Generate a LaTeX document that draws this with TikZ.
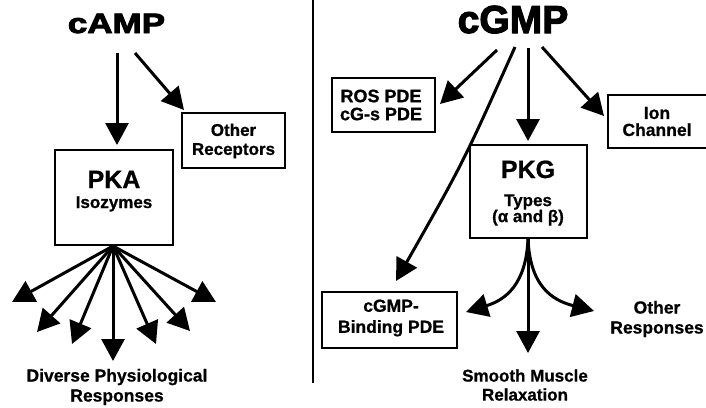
\documentclass[tikz,border=0pt]{standalone}
\usepackage{fontspec}
\setmainfont{Liberation Sans}
\newfontfamily\heavyfont[FakeBold=3]{Liberation Sans Bold}
\newfontfamily\labfont[FakeBold=0.8]{Liberation Sans Bold}
\usetikzlibrary{arrows.meta}
\begin{document}
\begin{tikzpicture}[x=1pt,y=-1pt,
  arr/.style={line width=3pt,-{Triangle[length=22pt,width=23pt]}},
  boxn/.style={draw,line width=1.4pt,inner sep=0pt},
  lbl/.style={font=\fontsize{17}{19}\selectfont\labfont,align=center,inner sep=0pt},
  big/.style={font=\fontsize{25}{25}\selectfont\labfont,inner sep=0pt,anchor=base},
]
\useasboundingbox (0,0) rectangle (706,407);

% divider
\coordinate (dtop) at (313,0);
\coordinate (dbot) at (313,383);
\draw[line width=1.2pt] (dtop) -- (dbot);

% ---------- cAMP side ----------
\node[font=\fontsize{28}{28}\selectfont\heavyfont, xscale=1.25, anchor=base, inner sep=0pt] (camp) at (116.5,33) {cAMP};

\node[boxn, minimum width=118pt, minimum height=95pt] (pka) at (114,197.5) {};
\node[big] (pkat) at (114,188) {PKA};
\node[lbl, anchor=base] (pkai) at (114,208) {Isozymes};

\node[boxn, minimum width=103pt, minimum height=55pt] (orec) at (233.5,140.5) {};
\node[lbl] (orect) at (233.5,141) {Other\\Receptors};

\coordinate (a1s) at (117,53);
\coordinate (a1e) at (117,145);
\coordinate (a2s) at (135,53);
\coordinate (a2e) at (184,110);
\draw[arr] (a1s) -- (a1e);
\draw[arr] (a2s) -- (a2e);

\coordinate (fo) at (113,246);
\coordinate (f1) at (12,302);
\coordinate (f2) at (37,332);
\coordinate (f3) at (72,344);
\coordinate (f4) at (113,361);
\coordinate (f5) at (156,344);
\coordinate (f6) at (190,331);
\coordinate (f7) at (216,302);
\foreach \t in {f1,f2,f3,f4,f5,f6,f7} \draw[arr] (fo) -- (\t);

\node[lbl, font=\fontsize{17.5}{20}\selectfont\labfont] (diverse) at (117,387) {Diverse Physiological\\Responses};

% ---------- cGMP side ----------
\node[font=\fontsize{39}{39}\selectfont\heavyfont, anchor=base, inner sep=0pt] (cgmp) at (513,33) {cGMP};

\node[boxn, minimum width=103pt, minimum height=54pt] (ros) at (383.5,105) {};
\node[lbl, font=\fontsize{18}{18}\selectfont\labfont] (rost) at (381,105) {ROS PDE\\cG-s PDE};

\begin{scope}
\clip (0,0) rectangle (706,407);
\node[boxn, minimum width=104pt, minimum height=53pt] (ion) at (660,121.5) {};
\end{scope}
\node[lbl, font=\fontsize{17.5}{17}\selectfont\labfont] (iont) at (657,121.5) {Ion\\Channel};

\node[boxn, minimum width=117pt, minimum height=93pt] (pkg) at (528.5,191.5) {};
\node[big] (pkgt) at (528,178) {PKG};
\node[lbl, font=\fontsize{17}{16}\selectfont\labfont] (pkgs) at (528,210) {Types\\(α and β)};

\node[boxn, minimum width=135pt, minimum height=56pt] (bind) at (389.5,320) {};
\node[lbl, font=\fontsize{17.5}{21}\selectfont\labfont] (bindt) at (391,318) {cGMP-\\Binding PDE};

\node[lbl, font=\fontsize{17.5}{20}\selectfont\labfont] (oresp) at (657,319) {Other\\Responses};
\node[lbl] (smooth) at (525,385) {Smooth Muscle\\Relaxation};

\coordinate (g1s) at (497,50);
\coordinate (g1e) at (440,104);
\coordinate (g2s) at (515,47);
\coordinate (g2c) at (463,163);
\coordinate (g2e) at (396,281);
\coordinate (g3s) at (528,48);
\coordinate (g3e) at (528,141);
\coordinate (g4s) at (542,47);
\coordinate (g4e) at (604,116);
\draw[arr] (g1s) -- (g1e);
\draw[arr] (g2s) .. controls (g2c) .. (g2e);
\draw[arr] (g3s) -- (g3e);
\draw[arr] (g4s) -- (g4e);

\coordinate (po) at (528,239);
\coordinate (p1) at (466,312);
\coordinate (p2) at (528,353);
\coordinate (p3) at (594,311);
\draw[arr] (po) .. controls (526,285) and (505,300) .. (p1);
\draw[arr] (po) -- (p2);
\draw[arr] (po) .. controls (530,285) and (551,300) .. (p3);
\end{tikzpicture}
\end{document}
